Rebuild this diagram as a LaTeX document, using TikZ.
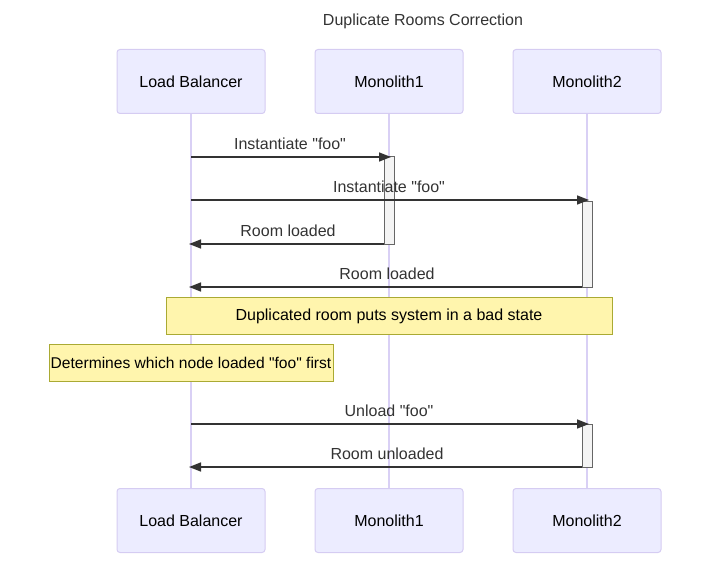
\documentclass[tikz,border=0pt]{standalone}
\usepackage{fontspec}
\setmainfont{Liberation Sans}[Ligatures=TeXOff]
\usetikzlibrary{arrows.meta}
\definecolor{actfill}{HTML}{ECECFF}
\definecolor{actline}{HTML}{D5CCF2}
\definecolor{lifeline}{HTML}{D9D0F5}
\definecolor{txt}{HTML}{333333}
\definecolor{notefill}{HTML}{FFF5AD}
\definecolor{noteline}{HTML}{AAAA33}
\definecolor{actvfill}{HTML}{F4F4F4}
\definecolor{actvline}{HTML}{666666}
\tikzset{
  actor/.style={draw=actline, fill=actfill, rounded corners=3pt, minimum width=148pt, minimum height=64pt, inner sep=0pt, line width=1pt, font=\fontsize{16}{19}\selectfont, text=black},
  life/.style={draw=lifeline, line width=1.5pt},
  actv/.style={draw=actvline, fill=actvfill, line width=1pt},
  msg/.style={draw=txt, line width=1.5pt, -{Triangle[length=12pt,width=9pt]}},
  mlabel/.style={font=\fontsize{16}{19}\selectfont, text=txt, inner sep=0pt},
  note/.style={draw=noteline, fill=notefill, line width=1pt, minimum height=37pt, inner sep=0pt, font=\fontsize{16}{19}\selectfont, text=black},
}
\begin{document}
\begin{tikzpicture}[x=1pt,y=-1pt]
\useasboundingbox (0,0) rectangle (719,569);
\node[mlabel] (title) at (423,21) {Duplicate Rooms Correction};
% lifelines
\coordinate (lbtop) at (191,113);
\coordinate (lbbot) at (191,488);
\coordinate (m1top) at (389,113);
\coordinate (m1bot) at (389,488);
\coordinate (m2top) at (587,113);
\coordinate (m2bot) at (587,488);
\draw[life] (lbtop) -- (lbbot);
\draw[life] (m1top) -- (m1bot);
\draw[life] (m2top) -- (m2bot);
% actors
\node[actor] (lbT) at (191,81.5) {Load Balancer};
\node[actor] (m1T) at (389,81.5) {Monolith1};
\node[actor] (m2T) at (587,81.5) {Monolith2};
\node[actor] (lbB) at (191,520.5) {Load Balancer};
\node[actor] (m1B) at (389,520.5) {Monolith1};
\node[actor] (m2B) at (587,520.5) {Monolith2};
% activations
\draw[actv] (384,157) rectangle (394,244);
\draw[actv] (582,202) rectangle (592,287);
\draw[actv] (582,424) rectangle (592,467);
% message endpoints
\coordinate (s1) at (191,157); \coordinate (e1) at (391,157);
\coordinate (s2) at (191,200); \coordinate (e2) at (589,200);
\coordinate (s3) at (384,244); \coordinate (e3) at (189,244);
\coordinate (s4) at (582,287); \coordinate (e4) at (189,287);
\coordinate (s5) at (191,424); \coordinate (e5) at (589,424);
\coordinate (s6) at (582,467); \coordinate (e6) at (189,467);
\draw[msg] (s1) -- (e1);
\draw[msg] (s2) -- (e2);
\draw[msg] (s3) -- (e3);
\draw[msg] (s4) -- (e4);
\draw[msg] (s5) -- (e5);
\draw[msg] (s6) -- (e6);
\node[mlabel] (l1) at (290,144) {Instantiate "foo"};
\node[mlabel] (l2) at (389,187) {Instantiate "foo"};
\node[mlabel] (l3) at (288,231) {Room loaded};
\node[mlabel] (l4) at (387,274) {Room loaded};
\node[mlabel] (l5) at (389,411) {Unload "foo"};
\node[mlabel] (l6) at (387,454) {Room unloaded};
% notes
\node[note, minimum width=284pt, font=\fontsize{15.6}{19}\selectfont] (n2) at (191,363) {Determines which node loaded "foo" first};
\node[note, minimum width=446pt] (n1) at (389,316) {Duplicated room puts system in a bad state};
\end{tikzpicture}
\end{document}
